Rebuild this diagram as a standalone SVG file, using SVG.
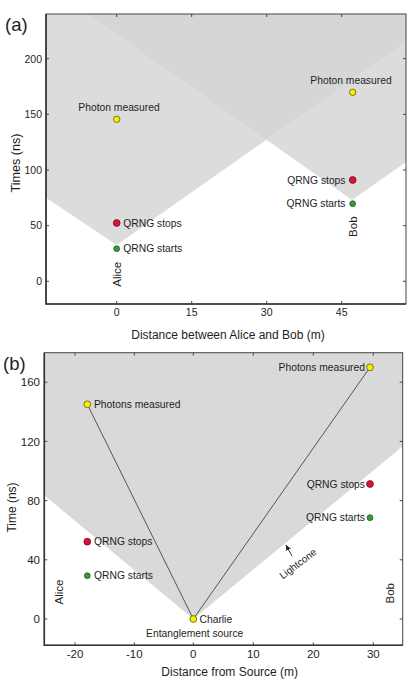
<svg xmlns="http://www.w3.org/2000/svg" width="416" height="686" viewBox="0 0 416 686">
<style>
text{font-family:"Liberation Sans",Arial,sans-serif;fill:#1e1e1e}
.tk{font-size:10.5px}
.tkb{font-size:11.5px}
.pl{font-size:10.3px}
.ax{font-size:12px}
.who{font-size:11.5px}
.pan{font-size:18.5px}
.frame{fill:none;stroke:#444;stroke-width:1}
.axl{stroke:#333;stroke-width:1.6;fill:none}
.tick{stroke:#444;stroke-width:1;fill:none}
.y{fill:#f5f000;stroke:#5a5a00;stroke-width:0.8}
.r{fill:#d4143c;stroke:#7a0a20;stroke-width:0.8}
.g{fill:#3a9a3a;stroke:#1d5a1d;stroke-width:0.8}
.wl{stroke:#555;stroke-width:1;fill:none}
</style>
<defs>
<marker id="ah" markerWidth="6" markerHeight="6" refX="5" refY="3" orient="auto" markerUnits="userSpaceOnUse">
<path d="M0,0.5 L6,3 L0,5.5 Z" fill="#222"/>
</marker>
</defs>

<!-- Panel (a) -->
<g id="panel-a">
<text class="pan" x="5" y="31">(a)</text>
<g id="lightcones-a">
<polygon points="46,197.7 116.7,245 406,41.6 406,14 46,14" fill="#dcdcdc"/>
<polygon points="88,14 352,200 406,162 406,14" fill="#dcdcdc"/>
<polygon points="88,14 266.3,139.5 406,41.6 406,14" fill="#d6d6d6"/>
</g>
<rect class="frame" x="46" y="14" width="360" height="290"/>
<path class="axl" d="M46,14 V304 H406"/>
<g id="ticks-a" class="tick">
<path d="M116.7,304v-3M191.7,304v-3M266.7,304v-3M341.7,304v-3M116.7,14v3M191.7,14v3M266.7,14v3M341.7,14v3"/>
<path d="M46,58.7h3M46,114.3h3M46,170h3M46,225.7h3M46,281.3h3M406,58.7h-3M406,114.3h-3M406,170h-3M406,225.7h-3M406,281.3h-3"/>
</g>
<g class="tk" text-anchor="end">
<text x="42" y="62.5">200</text>
<text x="42" y="118">150</text>
<text x="42" y="173.7">100</text>
<text x="42" y="229.4">50</text>
<text x="42" y="285">0</text>
</g>
<g class="tk" text-anchor="middle">
<text x="116.7" y="315.5">0</text>
<text x="191.7" y="315.5">15</text>
<text x="266.7" y="315.5">30</text>
<text x="341.7" y="315.5">45</text>
</g>
<text class="ax" text-anchor="middle" x="228" y="339">Distance between Alice and Bob (m)</text>
<text class="ax" text-anchor="middle" transform="translate(20,163) rotate(-90)" style="font-size:12.6px">Times (ns)</text>

<g id="alice-a">
<text class="who" text-anchor="middle" transform="translate(120.7,274.2) rotate(-90)">Alice</text>
</g>
<g id="bob-a">
<text class="who" text-anchor="middle" transform="translate(356.5,226.7) rotate(-90)">Bob</text>
</g>
<g id="a-photon-alice">
<circle class="y" cx="116.7" cy="119.3" r="3.2"/>
<text class="pl" text-anchor="middle" x="119" y="111">Photon measured</text>
</g>
<g id="a-photon-bob">
<circle class="y" cx="352.7" cy="92.3" r="3.2"/>
<text class="pl" text-anchor="middle" x="351" y="84">Photon measured</text>
</g>
<g id="a-stops-alice">
<circle class="r" cx="116.7" cy="223" r="3.4"/>
<text class="pl" x="123.3" y="226.7">QRNG stops</text>
</g>
<g id="a-starts-alice">
<circle class="g" cx="116.7" cy="248.7" r="2.9"/>
<text class="pl" x="123.3" y="252">QRNG starts</text>
</g>
<g id="a-stops-bob">
<circle class="r" cx="352.7" cy="180" r="3.4"/>
<text class="pl" text-anchor="end" x="345.5" y="183.7">QRNG stops</text>
</g>
<g id="a-starts-bob">
<circle class="g" cx="352.7" cy="203.7" r="2.9"/>
<text class="pl" text-anchor="end" x="345.5" y="207.3">QRNG starts</text>
</g>
</g>

<!-- Panel (b) -->
<g id="panel-b">
<text class="pan" x="3" y="370">(b)</text>
<polygon id="lightcone-b" points="44.3,495.3 193.3,619 402.7,446.3 402.7,352.7 44.3,352.7" fill="#d9d9d9"/>
<rect class="frame" x="44.3" y="352.7" width="358.4" height="292.6"/>
<path class="axl" d="M44.3,352.7 V645.3 H402.7"/>
<g id="ticks-b" class="tick">
<path d="M75,645.3v-3M134.3,645.3v-3M193.3,645.3v-3M253.3,645.3v-3M313.3,645.3v-3M373.3,645.3v-3M75,352.7v3M134.3,352.7v3M193.3,352.7v3M253.3,352.7v3M313.3,352.7v3M373.3,352.7v3"/>
<path d="M44.3,382.2h3M44.3,441.4h3M44.3,500.6h3M44.3,559.8h3M44.3,619h3M402.7,382.2h-3M402.7,441.4h-3M402.7,500.6h-3M402.7,559.8h-3M402.7,619h-3"/>
</g>
<g class="tkb" text-anchor="end">
<text x="40" y="386.3">160</text>
<text x="40" y="445.5">120</text>
<text x="40" y="504.7">80</text>
<text x="40" y="563.9">40</text>
<text x="40" y="623.1">0</text>
</g>
<g class="tkb" text-anchor="middle">
<text x="75" y="657.5">-20</text>
<text x="134.3" y="657.5">-10</text>
<text x="193.3" y="657.5">0</text>
<text x="253.3" y="657.5">10</text>
<text x="313.3" y="657.5">20</text>
<text x="373.3" y="657.5">30</text>
</g>
<text class="ax" text-anchor="middle" x="229.7" y="676">Distance from Source (m)</text>
<text class="ax" text-anchor="middle" transform="translate(15.5,507.5) rotate(-90)">Time (ns)</text>

<g id="worldlines-b">
<line class="wl" x1="193.3" y1="619" x2="87.3" y2="404.3"/>
<line class="wl" x1="193.3" y1="619" x2="370" y2="367.3"/>
</g>
<g id="alice-b">
<text class="who" text-anchor="middle" transform="translate(62.5,592) rotate(-90)">Alice</text>
</g>
<g id="bob-b">
<text class="who" text-anchor="middle" transform="translate(394,593.3) rotate(-90)">Bob</text>
</g>
<g id="b-photons-alice">
<circle class="y" cx="87.3" cy="404.3" r="3.4"/>
<text class="pl" x="94" y="408">Photons measured</text>
</g>
<g id="b-photons-bob">
<circle class="y" cx="370" cy="367.3" r="3.4"/>
<text class="pl" text-anchor="end" x="365" y="371">Photons measured</text>
</g>
<g id="b-stops-bob">
<circle class="r" cx="370" cy="484" r="3.4"/>
<text class="pl" text-anchor="end" x="365" y="487.7">QRNG stops</text>
</g>
<g id="b-starts-bob">
<circle class="g" cx="370" cy="517.7" r="2.9"/>
<text class="pl" text-anchor="end" x="365" y="521.3">QRNG starts</text>
</g>
<g id="b-stops-alice">
<circle class="r" cx="87.3" cy="541.7" r="3.4"/>
<text class="pl" x="94" y="545.3">QRNG stops</text>
</g>
<g id="b-starts-alice">
<circle class="g" cx="87.3" cy="575.7" r="2.9"/>
<text class="pl" x="94" y="579.3">QRNG starts</text>
</g>
<g id="charlie">
<circle class="y" cx="193.3" cy="619" r="3.4"/>
<text class="pl" x="199.5" y="622.5">Charlie</text>
<text class="pl" text-anchor="middle" x="194.7" y="636.5">Entanglement source</text>
</g>
<g id="lightcone-label">
<line x1="292" y1="556" x2="286.2" y2="545.5" stroke="#222" stroke-width="0.9" marker-end="url(#ah)"/>
<text class="pl" text-anchor="middle" transform="translate(300,566.5) rotate(-37)" style="font-size:10px">Lightcone</text>
</g>
</g>
</svg>
